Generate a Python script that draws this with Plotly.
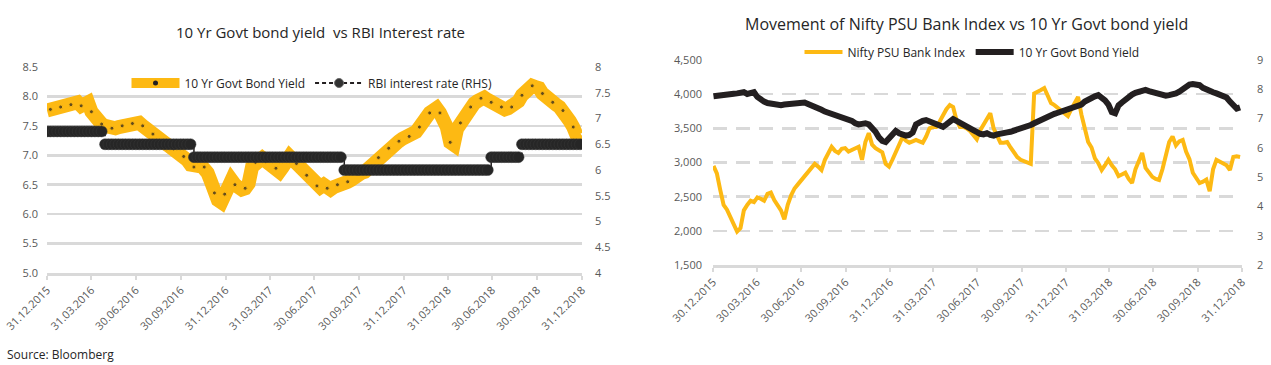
import pandas as pd
import plotly.graph_objects as go

# ---------------- data ----------------
week_dates = pd.date_range("2015-12-31", periods=157, freq="7D")

# 10 Yr Govt bond yield (weekly, %)
gsec_yield = [
    7.76, 7.78, 7.82, 7.80, 7.82, 7.84, 7.85, 7.86, 7.88, 7.90,
    7.84, 7.86, 7.90, 7.74, 7.64, 7.58, 7.53, 7.50, 7.47, 7.46,
    7.46, 7.48, 7.50, 7.52, 7.51, 7.54, 7.56, 7.55, 7.50, 7.46,
    7.40, 7.36, 7.30, 7.24, 7.20, 7.16, 7.13, 7.11, 7.07, 7.02,
    6.98, 6.92, 6.84, 6.80, 6.82, 6.84, 6.80, 6.70, 6.55, 6.36,
    6.24, 6.20, 6.34, 6.52, 6.58, 6.50, 6.44, 6.42, 6.44, 6.52,
    6.80, 6.88, 6.92, 6.95, 6.90, 6.86, 6.84, 6.78, 6.72, 6.80,
    6.92, 6.98, 6.92, 6.86, 6.80, 6.72, 6.66, 6.58, 6.52, 6.48,
    6.46, 6.50, 6.44, 6.42, 6.46, 6.50, 6.52, 6.53, 6.55, 6.58,
    6.64, 6.68, 6.70, 6.72, 6.78, 6.84, 6.90, 6.96, 7.02, 7.06,
    7.12, 7.16, 7.20, 7.24, 7.28, 7.31, 7.32, 7.36, 7.40, 7.48,
    7.58, 7.66, 7.72, 7.76, 7.80, 7.72, 7.62, 7.48, 7.22, 7.18,
    7.45, 7.55, 7.66, 7.74, 7.82, 7.88, 7.92, 7.97, 7.98, 7.94,
    7.90, 7.86, 7.84, 7.82, 7.78, 7.80, 7.82, 7.86, 7.92, 8.02,
    8.10, 8.16, 8.18, 8.16, 8.14, 8.05, 7.98, 7.94, 7.90, 7.86,
    7.82, 7.76, 7.72, 7.58, 7.48, 7.34, 7.38,
]

# RBI policy rate (weekly, %)
rbi_rate = [6.75] * 17 + [6.5] * 26 + [6.25] * 44 + [6.0] * 43 + [6.25] * 9 + [6.5] * 18

# Nifty PSU Bank Index (weekly)
psu_index = [
    2950, 2840, 2600, 2380, 2310, 2200, 2080, 1990, 2040, 2300,
    2380, 2440, 2420, 2490, 2470, 2440, 2540, 2560, 2450, 2380,
    2300, 2170, 2380, 2520, 2620, 2680, 2740, 2800, 2880, 2930,
    2980, 2940, 2890, 3040, 3150, 3230, 3170, 3140, 3200, 3210,
    3160, 3180, 3200, 3230, 3040, 3300, 3430, 3260, 3210, 3180,
    3150, 2980, 2940, 3040, 3160, 3280, 3370, 3320, 3290, 3310,
    3330, 3310, 3290, 3380, 3500, 3520, 3520, 3600, 3700, 3780,
    3840, 3810, 3620, 3520, 3520, 3500, 3460, 3400, 3340, 3470,
    3560, 3620, 3720, 3500, 3380, 3290, 3290, 3300, 3220, 3150,
    3080, 3040, 3020, 3000, 2980, 4010, 4030, 4060, 4090, 3960,
    3870, 3840, 3800, 3770, 3720, 3680, 3780, 3880, 3960, 3700,
    3480, 3300, 3220, 3060, 2990, 2890, 2960, 3040, 2960, 2900,
    2800, 2830, 2850, 2760, 2700, 2900, 3020, 3140, 2920, 2850,
    2790, 2760, 2745, 2900, 3080, 3300, 3380, 3250, 3310, 3330,
    3160, 3050, 2850, 2760, 2700, 2720, 2750, 2580, 2900, 3040,
    3010, 2980, 2960, 2890, 3080, 3090, 3080,
]

left_tick_vals = ["2015-12-31", "2016-03-31", "2016-06-30", "2016-09-30", "2016-12-31",
                  "2017-03-31", "2017-06-30", "2017-09-30", "2017-12-31", "2018-03-31",
                  "2018-06-30", "2018-09-30", "2018-12-31"]
left_tick_text = ["31.12.2015", "31.03.2016", "30.06.2016", "30.09.2016", "31.12.2016",
                  "31.03.2017", "30.06.2017", "30.09.2017", "31.12.2017", "31.03.2018",
                  "30.06.2018", "30.09.2018", "31.12.2018"]
right_tick_vals = ["2015-12-30", "2016-03-30", "2016-06-30", "2016-09-30", "2016-12-31",
                   "2017-03-31", "2017-06-30", "2017-09-30", "2017-12-31", "2018-03-31",
                   "2018-06-30", "2018-09-30", "2018-12-31"]
right_tick_text = ["30.12.2015", "30.03.2016", "30.06.2016", "30.09.2016", "31.12.2016",
                   "31.03.2017", "30.06.2017", "30.09.2017", "31.12.2017", "31.03.2018",
                   "30.06.2018", "30.09.2018", "31.12.2018"]

# ---------------- style ----------------
YELLOW = "#FDB913"
BLACK = "#231F20"
GRID = "#D9D9D9"
TICKC = "#595959"
FONT = "Open Sans, Liberation Sans, sans-serif"

W, H = 1271, 365
def px_x(p): return p / W
def px_y(p): return 1 - p / H

fig = go.Figure()

# ----- left chart -----
dot_sizes = [4 if i % 3 == 1 else 0 for i in range(len(gsec_yield))]
fig.add_trace(go.Scatter(
    x=week_dates, y=gsec_yield, xaxis="x", yaxis="y", mode="lines+markers",
    line=dict(color=YELLOW, width=14), marker=dict(color=BLACK, size=dot_sizes),
    showlegend=False, hoverinfo="skip"))
fig.add_trace(go.Scatter(
    x=week_dates, y=rbi_rate, xaxis="x", yaxis="y2", mode="lines+markers",
    line=dict(color=BLACK, width=1.5, dash="dash", shape="hv"),
    marker=dict(color="#262626", size=11, line=dict(color="#3a3a3a", width=0.5)),
    showlegend=False, hoverinfo="skip"))
# legend entries
fig.add_trace(go.Scatter(
    x=[None], y=[None], xaxis="x", yaxis="y", mode="lines+markers",
    name="10 Yr Govt Bond Yield", line=dict(color=YELLOW, width=10),
    marker=dict(color=BLACK, size=5), legend="legend"))
fig.add_trace(go.Scatter(
    x=[None], y=[None], xaxis="x", yaxis="y", mode="lines+markers",
    name="RBI interest rate (RHS)", line=dict(color=BLACK, width=2, dash="4px,3px"),
    marker=dict(color="#333333", size=9, line=dict(color="#6b6b6b", width=1)),
    legend="legend"))

# ----- right chart -----
fig.add_trace(go.Scatter(
    x=week_dates, y=psu_index, xaxis="x2", yaxis="y3", mode="lines",
    name="Nifty PSU Bank Index", line=dict(color=YELLOW, width=4),
    legend="legend2", hoverinfo="skip"))
fig.add_trace(go.Scatter(
    x=week_dates, y=gsec_yield, xaxis="x2", yaxis="y4", mode="lines",
    name="10 Yr Govt Bond Yield", line=dict(color=BLACK, width=6),
    legend="legend2", hoverinfo="skip"))

tickfont = dict(family=FONT, size=11, color=TICKC)

fig.update_layout(
    width=W, height=H,
    margin=dict(l=0, r=0, t=0, b=0, autoexpand=False),
    paper_bgcolor="white", plot_bgcolor="white",
    font=dict(family=FONT, color="#262626"),
    xaxis=dict(domain=[px_x(47), px_x(582)], type="date",
               range=["2015-12-31", "2018-12-31"],
               tickvals=left_tick_vals, ticktext=left_tick_text, tickangle=-45,
               tickfont=tickfont, showgrid=False, showline=True, linecolor=GRID,
               linewidth=2.5, ticks="outside", ticklen=4, tickcolor=GRID, tickwidth=2,
               anchor="y", zeroline=False, automargin=False),
    yaxis=dict(domain=[1 - 273 / H, 1 - 67 / H], range=[5, 8.5], dtick=0.5, tick0=5,
               tickformat=".1f", tickfont=tickfont, showgrid=True, gridcolor=GRID,
               gridwidth=2.5, zeroline=False, ticks="", ticklabelstandoff=8,
               anchor="x", automargin=False),
    yaxis2=dict(domain=[1 - 273 / H, 1 - 67 / H], range=[4, 8], dtick=0.5, tick0=4,
                overlaying="y", side="right", anchor="x", tickfont=tickfont,
                showgrid=False, zeroline=False, ticks="", ticklabelstandoff=12,
                automargin=False),
    xaxis2=dict(domain=[px_x(713), px_x(1242)], type="date",
                range=["2015-12-30", "2018-12-31"],
                tickvals=right_tick_vals, ticktext=right_tick_text, tickangle=-45,
                tickfont=tickfont, showgrid=False, showline=True, linecolor=GRID,
                linewidth=2.5, ticks="outside", ticklen=4, tickcolor=GRID, tickwidth=2,
                anchor="y3", zeroline=False, automargin=False),
    yaxis3=dict(domain=[1 - 265 / H, 1 - 60 / H], range=[1500, 4500], dtick=500,
                tick0=1500, tickformat=",", tickfont=tickfont, showgrid=True,
                gridcolor=GRID, gridwidth=2.5, griddash="14px,9px", zeroline=False,
                ticks="", ticklabelstandoff=10, anchor="x2", automargin=False),
    yaxis4=dict(domain=[1 - 265 / H, 1 - 60 / H], range=[2, 9], dtick=1, tick0=2,
                overlaying="y3", side="right", anchor="x2", tickfont=tickfont,
                showgrid=False, zeroline=False, ticks="", ticklabelstandoff=14,
                automargin=False),
    legend=dict(orientation="h", x=px_x(312), y=px_y(83), xanchor="center",
                yanchor="middle", font=dict(family=FONT, size=12, color="#262626"),
                itemwidth=48, bgcolor="rgba(0,0,0,0)", tracegroupgap=0),
    legend2=dict(orientation="h", x=px_x(972), y=px_y(52), xanchor="center",
                 yanchor="middle", font=dict(family=FONT, size=12, color="#262626"),
                 itemwidth=38, bgcolor="rgba(0,0,0,0)"),
    annotations=[
        dict(text="10 Yr Govt bond yield  vs RBI Interest rate", x=px_x(320), y=px_y(32),
             xref="paper", yref="paper", showarrow=False, xanchor="center",
             yanchor="middle", font=dict(family=FONT, size=15, color="#262626")),
        dict(text="Movement of Nifty PSU Bank Index vs 10 Yr Govt bond yield",
             x=px_x(966), y=px_y(24), xref="paper", yref="paper", showarrow=False,
             xanchor="center", yanchor="middle",
             font=dict(family=FONT, size=16, color="#262626")),
        dict(text="Source: Bloomberg", x=px_x(5), y=px_y(354), xref="paper",
             yref="paper", showarrow=False, xanchor="left", yanchor="middle",
             font=dict(family=FONT, size=12, color="#262626")),
    ],
)

fig.write_html("out.html",
               config={"displayModeBar": False, "staticPlot": True},
               post_script="document.body.style.margin='0';document.body.style.overflow='hidden';")
